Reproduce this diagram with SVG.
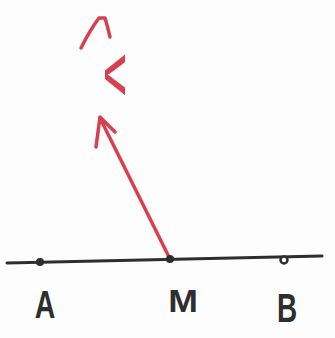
<svg xmlns="http://www.w3.org/2000/svg" width="335" height="338" viewBox="0 0 335 338">
<style>
.ink{fill:none;stroke:#2e2e2e;stroke-width:3;stroke-linecap:round;stroke-linejoin:round}
.red{fill:none;stroke:#d8404f;stroke-width:3.5;stroke-linecap:round;stroke-linejoin:round}
.lbl{font-family:"Liberation Sans",Arial,sans-serif;font-weight:bold;fill:#2e2e2e;text-anchor:middle}
</style>
<rect width="335" height="338" fill="#fdfdfd"/>
<g id="connectors">
<path class="ink" d="M7 263 L322 256"/>
<path id="vector" class="red" d="M170 259 L100 118 M96 147 L100 117 L115 132"/>
</g>
<g id="A"><circle cx="40" cy="262" r="4" fill="#2e2e2e"/><text class="lbl" font-size="38" transform="translate(45 318) scale(0.75 1)">A</text></g>
<g id="M"><circle cx="170" cy="259" r="4" fill="#2e2e2e"/><text class="lbl" font-size="31" transform="translate(183 312) scale(1.15 1)">M</text></g>
<g id="B"><circle cx="284" cy="260" r="3.5" fill="#fdfdfd" stroke="#2e2e2e" stroke-width="2.5"/><text class="lbl" font-size="40" transform="translate(287 322) scale(0.7 1)">B</text></g>
<g id="label-v">
<path class="red" d="M81 48 Q90 30 99 18 L105 18 Q108 28 110 37"/>
<text transform="translate(115 75) rotate(90) scale(1.8 0.8)" font-family="Liberation Sans,Arial,sans-serif" font-size="46" fill="#d8404f" text-anchor="middle" dominant-baseline="middle">v</text>
</g>
</svg>
